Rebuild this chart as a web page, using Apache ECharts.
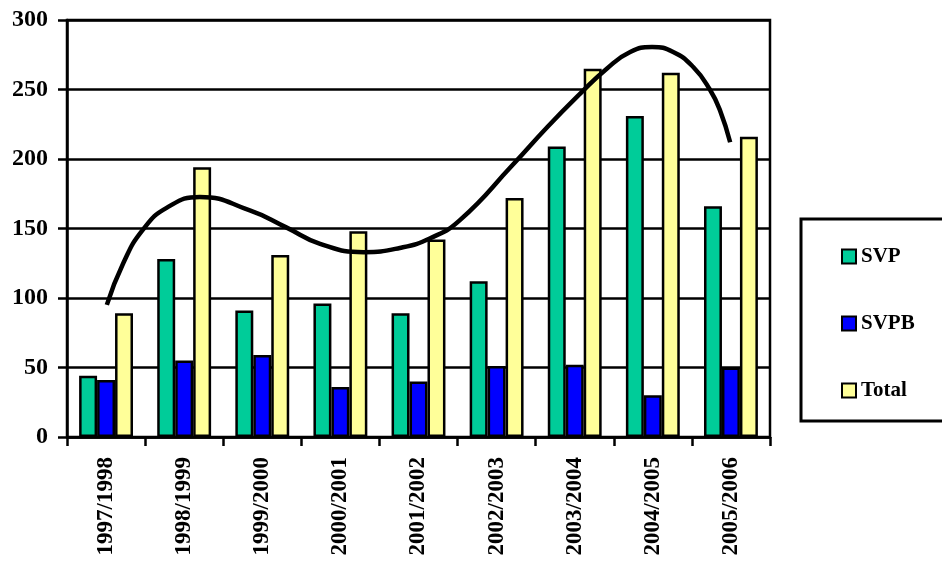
<!DOCTYPE html>
<html>
<head>
<meta charset="utf-8">
<title>SVP / SVPB</title>
<script src="https://cdn.jsdelivr.net/npm/echarts@6/dist/echarts.min.js"></script>
<style>
  html, body { margin: 0; padding: 0; background: #ffffff; }
  #chart { width: 942px; height: 562px; }
</style>
</head>
<body>
<div id="chart"></div>
<script>
// Season labels along the category axis
const seasons = ['1997/1998', '1998/1999', '1999/2000', '2000/2001', '2001/2002',
                 '2002/2003', '2003/2004', '2004/2005', '2005/2006'];

// Yearly counts
const svp   = [44, 128, 91, 96, 89, 112, 209, 231, 166];
const svpb  = [41, 55, 59, 36, 40, 51, 52, 30, 50];
const total = [89, 194, 131, 148, 142, 172, 265, 262, 216];

// Trend curve through the totals (position in category units, value)
const trendPos   = [0.01, 0.22, 0.47, 0.78, 1.20, 1.84, 2.30, 2.74, 3.30, 3.76, 4.15,
                    4.53, 5.21, 5.65, 6.07, 6.41, 6.71, 6.99, 7.26, 7.52, 7.73, 7.86, 7.99];
const trendValue = [95, 125, 149, 165, 172.7, 163, 151, 139, 133, 136, 143,
                    156, 196, 223, 247, 265, 277, 280.5, 277, 266, 250, 235, 212];

// Value axis ticks
const yTicks = { min: 0, max: 300, step: 50 };

const FONT = '"Liberation Serif", "DejaVu Serif", serif';

const chart = echarts.init(document.getElementById('chart'), null, { renderer: 'canvas' });

const barBorder = { borderColor: '#000', borderWidth: 2.5 };

chart.setOption({
  backgroundColor: '#ffffff',
  animation: false,
  grid: {
    left: 67, right: 172, top: 20, bottom: 125,
    show: true, borderColor: '#000', borderWidth: 2.5, backgroundColor: 'transparent'
  },
  legend: {
    orient: 'vertical',
    left: 836, top: 240,
    itemWidth: 14, itemHeight: 14,
    itemGap: 44,
    icon: 'rect',
    textStyle: { fontFamily: FONT, fontWeight: 'bold', fontSize: 21, color: '#000', lineHeight: 23 },
    data: ['SVP', 'SVPB', 'Total']
  },
  graphic: [{
    type: 'rect',
    shape: { x: 801, y: 219, width: 160, height: 202 },
    style: { fill: 'transparent', stroke: '#000', lineWidth: 3 },
    silent: true, z: 10
  }],
  xAxis: [{
    type: 'category',
    data: seasons,
    boundaryGap: true,
    axisLine: { onZero: false, lineStyle: { color: '#000', width: 2.5 } },
    axisTick: { show: true, length: 9, alignWithLabel: false, lineStyle: { color: '#000', width: 2.5 } },
    axisLabel: {
      rotate: 90, margin: 20, color: '#000',
      fontFamily: FONT, fontWeight: 'bold', fontSize: 23
    },
    splitLine: { show: false }
  }, {
    type: 'value',
    min: -0.5, max: 8.5,
    show: false
  }],
  yAxis: {
    type: 'value',
    min: yTicks.min, max: yTicks.max, interval: yTicks.step,
    axisLine: { show: true, onZero: false, lineStyle: { color: '#000', width: 2.5 } },
    axisTick: { show: true, length: 9, lineStyle: { color: '#000', width: 2.5 } },
    axisLabel: {
      margin: 19, color: '#000',
      fontFamily: FONT, fontWeight: 'bold', fontSize: 24
    },
    splitLine: { show: true, lineStyle: { color: '#000', width: 2.5 } }
  },
  series: [{
    name: 'SVP', type: 'bar', data: svp,
    barGap: '0%', barCategoryGap: '31%',
    itemStyle: Object.assign({ color: '#00CC99' }, barBorder)
  }, {
    name: 'SVPB', type: 'bar', data: svpb,
    barGap: '0%', barCategoryGap: '31%',
    itemStyle: Object.assign({ color: '#0000FF' }, barBorder)
  }, {
    name: 'Total', type: 'bar', data: total,
    barGap: '0%', barCategoryGap: '31%',
    itemStyle: Object.assign({ color: '#FFFF99' }, barBorder)
  }, {
    name: 'trend', type: 'line',
    xAxisIndex: 1,
    data: trendPos.map((p, i) => [p, trendValue[i]]),
    smooth: 0.5,
    showSymbol: false,
    lineStyle: { color: '#000', width: 4.5 },
    z: 5, silent: true
  }]
});
</script>
</body>
</html>
